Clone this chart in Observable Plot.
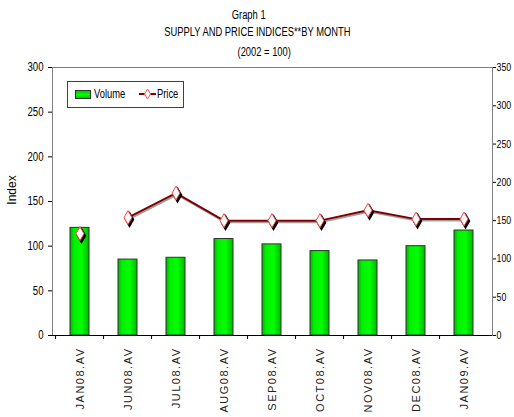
<!DOCTYPE html>
<html>
<head>
<meta charset="utf-8">
<script src="https://cdn.jsdelivr.net/npm/d3@7"></script>
<script src="https://cdn.jsdelivr.net/npm/@observablehq/plot@0.6"></script>
<style>
  body { margin: 0; background: #fff; }
  #wrap { position: relative; width: 514px; height: 417px; overflow: hidden; font-family: "Liberation Sans", Arial, sans-serif; color: #000; }
  #titles { height: 62px; position: relative; font-size: 12px; }
  #titles div { position: absolute; width: 514px; text-align: center; line-height: 14px; }
  .nar { display: inline-block; transform: scaleX(0.78); transform-origin: center; white-space: nowrap; }
  #legend { position: absolute; left: 67px; top: 81px; width: 115px; height: 25px; border: 1px solid #404040; background: #fff; font-size: 12px; }
  #legend .sw { position: absolute; left: 7px; top: 8px; width: 14px; height: 7px; border: 1px solid #303030; background: linear-gradient(#00c800, #00ff00, #00c800); }
  #legend .lt { position: absolute; top: 5px; white-space: nowrap; transform: scaleX(0.78); transform-origin: left center; }
  #legend .t1 { left: 26px; }
  #legend .t2 { left: 89px; }
  #legend svg { position: absolute; left: 70px; top: 5px; }
  #ylabel { position: absolute; left: 12px; top: 190px; transform: translate(-50%, -50%) rotate(-90deg); font-size: 12px; }
  #chart { position: absolute; left: 0; top: 62px; }
</style>
</head>
<body>
<div id="wrap">
  <div id="titles">
    <div style="top:8px;left:-8px"><span class="nar">Graph 1</span></div>
    <div style="top:25px;left:0px"><span class="nar">SUPPLY AND PRICE INDICES**BY MONTH</span></div>
    <div style="top:45px;left:7px"><span class="nar">(2002 = 100)</span></div>
  </div>
  <div id="chart"></div>
  <div id="ylabel">Index</div>
  <div id="legend">
    <div class="sw"></div><span class="lt t1">Volume</span>
    <svg width="20" height="14"><line x1="1" y1="7" x2="18" y2="7" stroke="#800000" stroke-width="2"/><path d="M9.5,2 L12.5,7 L9.5,12 L6.5,7 Z" fill="#fff" stroke="#ff5050" stroke-width="1"/></svg>
    <span class="lt t2">Price</span>
  </div>
</div>
<script>
const months = ["JAN08.AV", "JUN08.AV", "JUL08.AV", "AUG08.AV", "SEP08.AV", "OCT08.AV", "NOV08.AV", "DEC08.AV", "JAN09.AV"];
const volume = [120.5, 85, 87, 108, 102, 94.5, 84, 100, 117.5];
const price = [133, 154, 186, 150, 150, 150, 163.5, 152, 152];
const leftTicks = [0, 50, 100, 150, 200, 250, 300];
const rightTicks = [0, 50, 100, 150, 200, 250, 300, 350];
const leftMax = 300, rightMax = 350;

const toLeft = v => v * leftMax / rightMax;
const rows = months.map((m, i) => ({month: m, volume: volume[i], price: price[i], p: toLeft(price[i])}));
const lineRows = rows.slice(1); // JAN08 is not joined to the line

const W = 514, H = 355, ML = 52, MR = 22, MT = 5, MB = 82;
const step = (W - ML - MR) / months.length;

const chart = Plot.plot({
  width: W, height: H,
  marginLeft: ML, marginRight: MR, marginTop: MT, marginBottom: MB,
  style: {fontFamily: "'Liberation Sans', Arial, sans-serif", fontSize: "12px", background: "#fff", color: "#000", overflow: "visible"},
  x: {domain: months, paddingInner: 0.6, paddingOuter: 0.3, axis: null},
  y: {domain: [0, leftMax], axis: null},
  marks: [
    Plot.frame({stroke: "#808080"}),
    Plot.barY(rows, {x: "month", y: "volume", fill: "url(#barGrad)", stroke: "#303030", strokeWidth: 1}),
    Plot.ruleY([0], {stroke: "#000"}),
    Plot.line(lineRows, {x: "month", y: "p", stroke: "#a0a0a0", strokeWidth: 2, dx: 1, dy: 1.5}),
    Plot.line(lineRows, {x: "month", y: "p", stroke: "#800000", strokeWidth: 2}),
    Plot.dot(rows, {x: "month", y: "p", symbol: "diamond", r: 4.2, fill: "#000", stroke: "#000", dx: 1.5, dy: 2}),
    Plot.dot(rows, {x: "month", y: "p", symbol: "diamond", r: 4.2, fill: "#fff", stroke: "#ff4040", strokeWidth: 1}),
    Plot.axisY(leftTicks, {anchor: "left", tickSize: 4, tickPadding: 5, label: null}),
    Plot.axisY(rightTicks.map(toLeft), {anchor: "right", tickSize: 3, tickPadding: 1, label: null, fontSize: 11, tickFormat: d => String(Math.round(d * rightMax / leftMax))}),
    Plot.axisX(months, {anchor: "bottom", tickSize: 4, dx: -step / 2, tickFormat: () => "", label: null}),
    Plot.axisX(months, {anchor: "bottom", tickSize: 0, tickPadding: 12, tickRotate: -90, label: null, fontSize: 11})
  ]
});

// gradient for the bars
const ns = "http://www.w3.org/2000/svg";
const defs = document.createElementNS(ns, "defs");
defs.innerHTML = '<linearGradient id="barGrad" x1="0" x2="1" y1="0" y2="0">' +
  '<stop offset="0" stop-color="#00b000"/><stop offset="0.2" stop-color="#00f000"/>' +
  '<stop offset="0.6" stop-color="#00ff00"/><stop offset="1" stop-color="#00b800"/></linearGradient>';
chart.insertBefore(defs, chart.firstChild);
document.getElementById("chart").appendChild(chart);

// rotated month labels: letter spacing; y tick labels: condensed like Arial Narrow
chart.querySelectorAll("g[aria-label*='x-axis tick label'] text").forEach(t => { t.setAttribute("letter-spacing", "1.5"); t.setAttribute("fill", "#222"); });
chart.querySelectorAll("g[aria-label*='y-axis tick label'] text").forEach(t => {
  const len = t.getComputedTextLength();
  if (len > 0) { t.setAttribute("textLength", (len * 0.8).toFixed(2)); t.setAttribute("lengthAdjust", "spacingAndGlyphs"); }
});
</script>
</body>
</html>
